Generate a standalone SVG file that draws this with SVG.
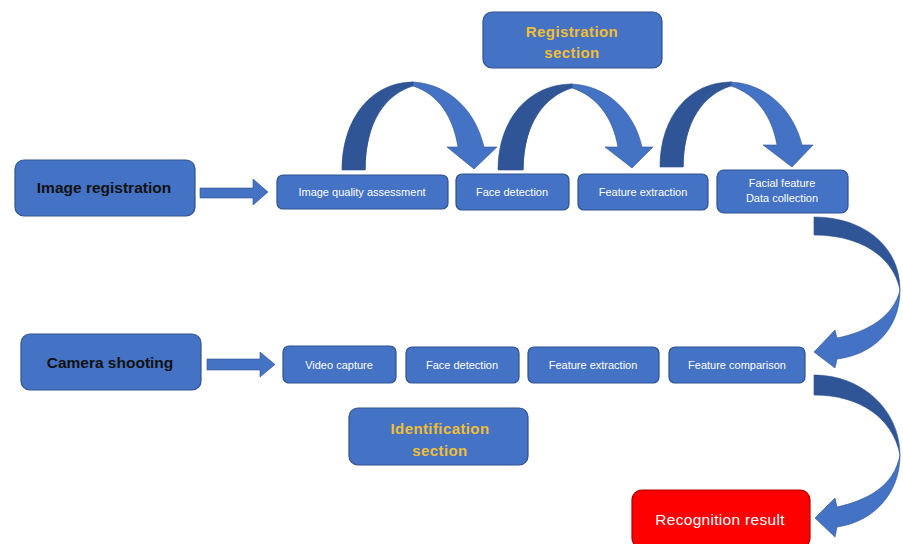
<svg xmlns="http://www.w3.org/2000/svg" width="903" height="544" viewBox="0 0 903 544">
<style>
.box{fill:#4472C4;stroke:#2F528F;stroke-width:1.2}
.red{fill:#FF0000;stroke:#B00000;stroke-width:1.2}
.t{font-family:"Liberation Sans",Arial,sans-serif;fill:#FFFFFF;font-size:11px;text-anchor:middle}
.big{font-family:"Liberation Sans",Arial,sans-serif;fill:#111111;font-size:15.5px;font-weight:bold;text-anchor:middle}
.gold{font-family:"Liberation Sans",Arial,sans-serif;fill:#F0BE35;font-size:15px;font-weight:bold;text-anchor:middle;letter-spacing:0.4px}
.res{font-family:"Liberation Sans",Arial,sans-serif;fill:#FFFFFF;font-size:15.5px;text-anchor:middle;letter-spacing:0.3px}
.dk{fill:#2F5597;stroke:#2B4F8C;stroke-width:0.6}
.lt{fill:#4472C4;stroke:#2F528F;stroke-width:0.6}
</style>
<rect width="903" height="544" fill="#FFFFFF"/>

<g id="connectors">
  <!-- straight block arrows -->
  <path class="lt" d="M200,188 L253,188 L253,179 L268,192 L253,205 L253,198 L200,198 Z"/>
  <path class="lt" d="M207,359 L260,359 L260,352 L275,364.5 L260,377 L260,370 L207,370 Z"/>

  <!-- curved arrow 1 -->
  <path class="dk" d="M342,170 C342,118 372,82 413,82 C390,86 365,118 365,170 Z"/>
  <path class="dk" d="M365,170 C365,122 386,94 413,86 L413,82 C390,86 365,118 365,170 Z"/>
  <path class="lt" d="M413,82 C450,84 476,112 484,147 L497,147 L474,169 L447,147 L458,147 C453,116 438,94 413,86 Z"/>
  <!-- curved arrow 2 -->
  <path class="dk" d="M498,170 C498,118 530,84 572,84 C549,88 523,120 523,170 Z"/>
  <path class="dk" d="M523,170 C523,124 545,96 572,88 L572,84 C549,88 523,120 523,170 Z"/>
  <path class="lt" d="M572,84 C609,86 635,114 642,147 L653,147 L632,168 L605,147 L618,147 C613,118 597,96 572,88 Z"/>
  <!-- curved arrow 3 -->
  <path class="dk" d="M660,167 C660,116 690,82 731,82 C708,86 683,118 683,167 Z"/>
  <path class="dk" d="M683,167 C683,122 704,94 731,86 L731,82 C708,86 683,118 683,167 Z"/>
  <path class="lt" d="M731,82 C768,84 794,112 802,145 L813,145 L792,167 L763,145 L777,145 C772,116 756,94 731,86 Z"/>

  <!-- right curved arrow 1 -->
  <path class="dk" d="M814,217 C862,217 900,245 900,290 C893,256 860,235 814,235 Z"/>
  <path class="lt" d="M900,290 C900,330 872,355 837,359 L835,368 L814,352 L835,330 L837,338 C868,332 894,316 900,290 Z"/>
  <!-- right curved arrow 2 -->
  <path class="dk" d="M814,375 C862,375 900,410 900,455 C893,418 860,395 814,395 Z"/>
  <path class="lt" d="M900,455 C900,495 872,522 837,527 L835,537 L815,518 L835,498 L837,507 C868,500 894,486 900,455 Z"/>
</g>

<g id="registration-section">
  <rect class="box" x="483" y="12" width="179" height="56" rx="9"/>
  <text class="gold" x="572" y="37">Registration</text>
  <text class="gold" x="572" y="58">section</text>
</g>

<g id="image-registration">
  <rect class="box" x="15" y="160" width="180" height="56" rx="9"/>
  <text class="big" x="104" y="193">Image registration</text>
</g>

<g id="image-quality-assessment">
  <rect class="box" x="277" y="175" width="171" height="34" rx="6"/>
  <text class="t" x="362" y="196">Image quality assessment</text>
</g>

<g id="face-detection-1">
  <rect class="box" x="456" y="174" width="113" height="36" rx="6"/>
  <text class="t" x="512" y="196">Face detection</text>
</g>

<g id="feature-extraction-1">
  <rect class="box" x="578" y="174" width="130" height="36" rx="6"/>
  <text class="t" x="643" y="196">Feature extraction</text>
</g>

<g id="facial-feature-data-collection">
  <rect class="box" x="717" y="170" width="131" height="43" rx="7"/>
  <text class="t" x="782" y="187">Facial feature</text>
  <text class="t" x="782" y="202">Data collection</text>
</g>

<g id="camera-shooting">
  <rect class="box" x="21" y="334" width="180" height="56" rx="9"/>
  <text class="big" x="110" y="368">Camera shooting</text>
</g>

<g id="video-capture">
  <rect class="box" x="283" y="346" width="113" height="37" rx="6"/>
  <text class="t" x="339" y="369">Video capture</text>
</g>

<g id="face-detection-2">
  <rect class="box" x="406" y="347" width="113" height="36" rx="6"/>
  <text class="t" x="462" y="369">Face detection</text>
</g>

<g id="feature-extraction-2">
  <rect class="box" x="528" y="347" width="131" height="36" rx="6"/>
  <text class="t" x="593" y="369">Feature extraction</text>
</g>

<g id="feature-comparison">
  <rect class="box" x="669" y="347" width="136" height="36" rx="6"/>
  <text class="t" x="737" y="369">Feature comparison</text>
</g>

<g id="identification-section">
  <rect class="box" x="349" y="408" width="179" height="57" rx="9"/>
  <text class="gold" x="440" y="434">Identification</text>
  <text class="gold" x="440" y="456">section</text>
</g>

<g id="recognition-result">
  <rect class="red" x="632" y="490" width="178" height="58" rx="10"/>
  <text class="res" x="720" y="525">Recognition result</text>
</g>
</svg>
